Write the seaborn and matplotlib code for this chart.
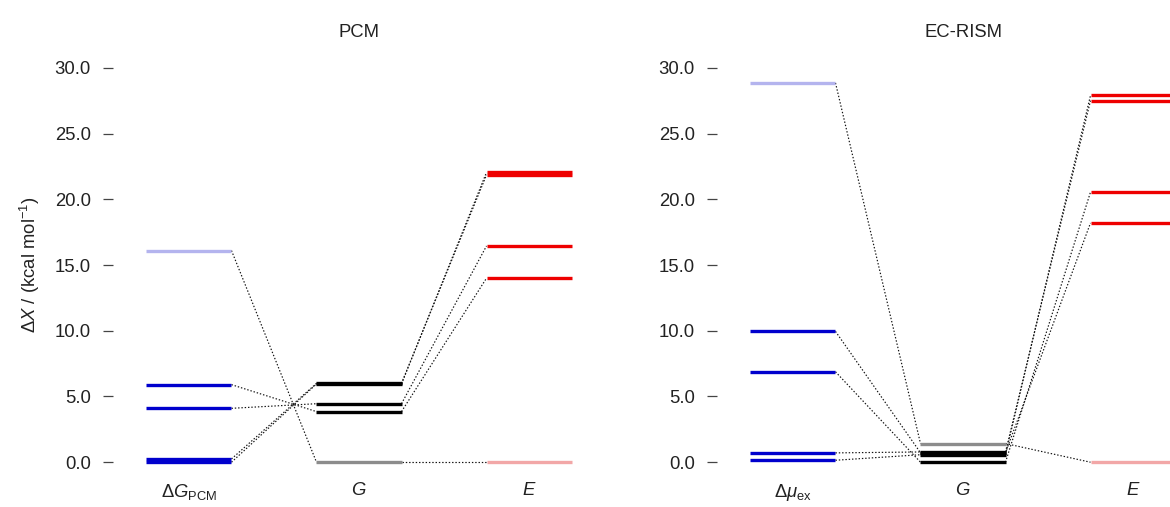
import numpy as np
import pandas as pd
import matplotlib
matplotlib.use("Agg")
import matplotlib.pyplot as plt
import seaborn as sns

# ---------------- data ----------------
panel_titles = ["PCM", "EC-RISM"]
pcm_columns = [r"$\Delta G_{\mathrm{PCM}}$", r"$G$", r"$E$"]
rism_columns = [r"$\Delta\mu_{\mathrm{ex}}$", r"$G$", r"$E$"]
conformers = ["ref", "c2", "c3", "c4", "c5"]

# PCM panel (kcal/mol)
pcm_solv = [16.1, 0.25, 0.0, 5.9, 4.1]
pcm_G = [0.0, 6.0, 5.95, 3.85, 4.45]
pcm_E = [0.0, 21.85, 22.05, 14.0, 16.45]

# EC-RISM panel (kcal/mol)
rism_solv = [28.85, 6.88, 9.95, 0.15, 0.71]
rism_G = [1.42, 0.0, 0.72, 0.57, 0.78]
rism_E = [0.0, 20.55, 18.2, 27.9, 27.5]

y_ticks = [0, 5, 10, 15, 20, 25, 30]

# ---------------- style ----------------
sns.set_theme(style="white")
plt.rcParams["font.family"] = ["Liberation Sans", "DejaVu Sans"]
plt.rcParams["mathtext.fontset"] = "custom"
plt.rcParams["mathtext.rm"] = "Liberation Sans"
plt.rcParams["mathtext.it"] = "Liberation Sans:italic"
plt.rcParams["mathtext.bf"] = "Liberation Sans:bold"

ref_colors = ["#B4B4EE", "#8C8C8C", "#F2A7A7"]
main_colors = ["#0000CD", "#000000", "#EE0000"]
text_color = "#222222"
fs = 13.3

W, H = 1170, 507
fig = plt.figure(figsize=(W / 100, H / 100), dpi=100)

bottom = (H - 478) / H
height = (478 - 52) / H
ax_l = fig.add_axes([113 / W, bottom, 492 / W, height])
ax_r = fig.add_axes([717 / W, bottom, 492 / W, height])

half = 0.25


def draw_panel(ax, title, col_labels, solv, G, E):
    cols = [solv, G, E]
    # connectors (long form, drawn by seaborn)
    rows = []
    for i, c in enumerate(conformers):
        for k in range(2):
            rows.append(dict(conf=c, seg=f"{c}-{k}", x=k + 1 + half, y=cols[k][i]))
            rows.append(dict(conf=c, seg=f"{c}-{k}", x=k + 2 - half, y=cols[k + 1][i]))
    df = pd.DataFrame(rows)
    sns.lineplot(data=df, x="x", y="y", units="seg", estimator=None,
                 color="#111111", linestyle=(0, (1.2, 1.6)), linewidth=0.85,
                 ax=ax, sort=False, legend=False, zorder=1)
    # levels
    for k, vals in enumerate(cols):
        for i, v in enumerate(vals):
            col = ref_colors[k] if i == 0 else main_colors[k]
            ax.hlines(v, k + 1 - half, k + 1 + half, colors=col,
                      linewidth=2.4, zorder=3 if i else 2)
    ax.set_xlim(0.553, 3.447)
    ax.set_ylim(-1.2, 31.2)
    ax.set_yticks(y_ticks)
    ax.set_yticklabels([f"{t:.1f}" for t in y_ticks])
    ax.set_xticks([1, 2, 3])
    ax.set_xticklabels(col_labels)
    ax.tick_params(axis="x", bottom=False, length=0, pad=3, labelsize=fs,
                   colors=text_color)
    ax.tick_params(axis="y", left=True, direction="out", length=7, width=0.9,
                   color="#444444", pad=9, labelsize=fs, labelcolor=text_color)
    for s in ax.spines.values():
        s.set_visible(False)
    ax.set_xlabel("")
    ax.set_ylabel("")
    ax.set_title(title, fontsize=fs, pad=11, color=text_color)


draw_panel(ax_l, panel_titles[0], pcm_columns, pcm_solv, pcm_G, pcm_E)
draw_panel(ax_r, panel_titles[1], rism_columns, rism_solv, rism_G, rism_E)

fig.text(30 / W, 1 - 265 / H, r"$\Delta X$ / (kcal mol$^{-1}$)",
         rotation=90, ha="center", va="center", fontsize=fs, color=text_color)

fig.savefig("out.png", dpi=100, facecolor="white")
